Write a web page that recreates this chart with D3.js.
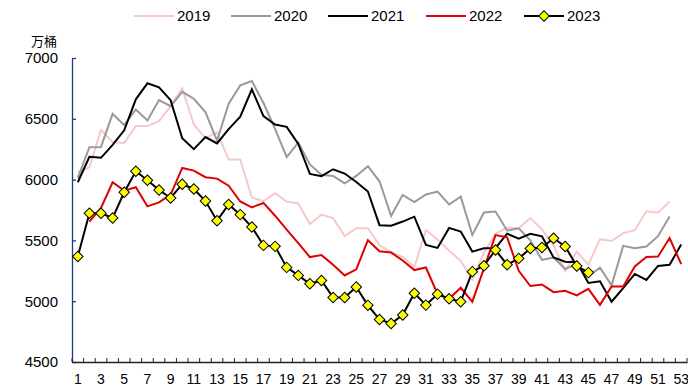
<!DOCTYPE html>
<html><head><meta charset="utf-8">
<script src="https://cdn.jsdelivr.net/npm/d3@7"></script>
<style>
html,body{margin:0;padding:0;background:#fff;}
svg{display:block;font-family:"Liberation Sans",Arial,sans-serif;}
</style></head>
<body><svg id="c" width="688" height="389"></svg>
<script>
const weeks = d3.range(1, 54);
const yTicks = [4500, 5000, 5500, 6000, 6500, 7000];
const seriesNames = ["2019", "2020", "2021", "2022", "2023"];
const s2019 = [6057,6102,6409,6308,6302,6440,6440,6481,6604,6750,6453,6340,6390,6165,6165,5852,5822,5888,5820,5804,5634,5713,5683,5535,5600,5600,5460,5405,5365,5283,5585,5508,5415,5332,5180,5400,5555,5605,5600,5684,5590,5460,5250,5408,5300,5510,5495,5560,5584,5740,5727,5820,null];
const s2020 = [6014,6267,6269,6541,6448,6577,6486,6654,6604,6722,6665,6555,6320,6625,6775,6810,6630,6418,6185,6305,6125,6040,6030,5970,6030,6110,5986,5700,5875,5815,5878,5902,5795,5860,5545,5730,5738,5580,5600,5500,5340,5360,5265,5305,5205,5275,5130,5455,5435,5450,5535,5697,null];
const s2021 = [5978,6187,6179,6285,6405,6660,6792,6758,6653,6340,6250,6350,6297,6415,6518,6742,6522,6453,6434,6294,6047,6028,6085,6050,5980,5902,5625,5620,5655,5695,5463,5438,5603,5573,5408,5436,5438,5555,5514,5555,5533,5360,5325,5320,5150,5164,4996,5108,5224,5175,5290,5300,5466];
const s2022 = [null,5655,5767,5978,5909,5937,5780,5813,5876,6096,6074,6020,6008,5950,5820,5772,5808,5703,5588,5478,5363,5379,5300,5212,5262,5502,5410,5400,5335,5256,5277,5060,5020,5110,4996,5270,5544,5525,5250,5125,5138,5074,5085,5047,5102,4970,5121,5121,5286,5363,5368,5519,5305];
const s2023 = [5368,5723,5723,5684,5896,6069,5995,5915,5849,5962,5923,5824,5662,5795,5712,5610,5459,5451,5278,5212,5143,5170,5030,5030,5117,4966,4850,4817,4886,5066,4968,5058,5020,4996,5243,5292,5421,5300,5352,5433,5441,5518,5450,5290,5235,null,null,null,null,null,null,null,null];

const colors = ["#F6C9C9", "#999999", "#000000", "#E00000", "#000000"];
const allSeries = [s2019, s2020, s2021, s2022, s2023];

const svg = d3.select("#c");
const x = d3.scaleBand().domain(weeks).range([72, 687]).paddingInner(0).paddingOuter(0);
const y = d3.scaleLinear().domain([4500, 7000]).range([362, 58]);
const cx = w => x(w) + x.bandwidth() / 2;

// Y axis
const yAxis = svg.append("g").attr("transform", "translate(72,0)")
  .call(d3.axisLeft(y).tickValues(yTicks).tickSizeInner(-4).tickSizeOuter(0).tickPadding(14).tickFormat(d3.format("d")));
yAxis.select(".domain").attr("stroke", "#1F3B84").attr("stroke-width", 1.3);
yAxis.selectAll(".tick line").attr("stroke", "#1F3B84").attr("stroke-width", 1.3);
yAxis.selectAll(".tick text").attr("fill", "#000").style("font-size", "15px");

// X axis
const xAxis = svg.append("g").attr("transform", "translate(0,362)")
  .call(d3.axisBottom(x).tickSize(0).tickPadding(12).tickFormat(d => d % 2 === 1 ? d : ""));
xAxis.select(".domain").attr("stroke", "#222").attr("stroke-width", 1.3);
xAxis.selectAll(".tick text").attr("fill", "#000").style("font-size", "14px");
const bounds = weeks.map(w => x(w)).concat([x(53) + x.bandwidth()]);
xAxis.selectAll(".btick").data(bounds).enter().append("line")
  .attr("x1", d => d).attr("x2", d => d).attr("y1", 0).attr("y2", -4)
  .attr("stroke", "#222").attr("stroke-width", 1);

// unit label
svg.append("text").attr("x", 44).attr("y", 46).attr("text-anchor", "middle")
  .style("font-size", "13px").style("font-family", "'Noto Sans CJK SC',sans-serif").text("万桶");

// lines
const line = d3.line().defined(d => d.v != null).x(d => cx(d.w)).y(d => y(d.v));
allSeries.forEach((s, i) => {
  const data = weeks.map((w, k) => ({w: w, v: s[k]}));
  svg.append("path").datum(data).attr("fill", "none")
    .attr("stroke", colors[i]).attr("stroke-width", 2).attr("stroke-linejoin", "miter")
    .attr("d", line);
});
// diamonds for 2023
const d23 = weeks.map((w, k) => ({w: w, v: s2023[k]})).filter(d => d.v != null);
svg.append("g").selectAll("path").data(d23).enter().append("path")
  .attr("d", d3.symbol().type(d3.symbolSquare).size(55))
  .attr("transform", d => `translate(${cx(d.w)},${y(d.v)}) rotate(45)`)
  .attr("fill", "#FFFF00").attr("stroke", "#000").attr("stroke-width", 1);

// legend
const legX = [134, 231, 328, 426, 524];
const lg = svg.append("g");
seriesNames.forEach((n, i) => {
  lg.append("line").attr("x1", legX[i]).attr("x2", legX[i] + 40).attr("y1", 16).attr("y2", 16)
    .attr("stroke", colors[i]).attr("stroke-width", 2);
  if (i === 4) {
    lg.append("path").attr("d", d3.symbol().type(d3.symbolSquare).size(55))
      .attr("transform", `translate(${legX[i] + 20},16) rotate(45)`)
      .attr("fill", "#FFFF00").attr("stroke", "#000").attr("stroke-width", 1);
  }
  lg.append("text").attr("x", legX[i] + 43).attr("y", 21).style("font-size", "15px").text(n);
});
</script></body></html>
